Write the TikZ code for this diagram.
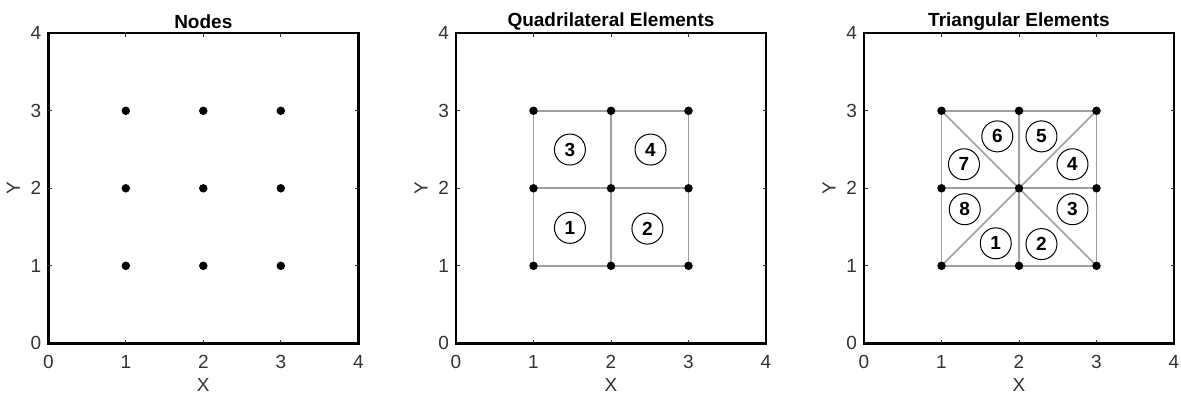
\documentclass[tikz,border=0pt]{standalone}
\usepackage{fontspec}
\setmainfont{Liberation Sans}
\tikzset{
 axbox/.style={draw=black, line width=2.4pt},
 axtick/.style={draw=black!80, line width=1pt},
 gridline/.style={draw=gray!75, line width=1.6pt},
 dot/.style={circle, fill=black, inner sep=0pt, minimum size=8.5pt},
 elem/.style={circle, draw=black, line width=1pt, minimum size=31pt, inner sep=0pt, font=\fontsize{19}{19}\selectfont\bfseries},
 ticklab/.style={font=\fontsize{19}{19}\selectfont, text=black!80, inner sep=0pt},
 axlab/.style={font=\fontsize{19}{19}\selectfont, text=black!80, inner sep=0pt},
 ptitle/.style={font=\fontsize{19}{19}\selectfont\bfseries, inner sep=0pt},
}
\begin{document}
\begin{tikzpicture}
\useasboundingbox[fill=white] (0,0) rectangle (1181pt,394pt);
\foreach \ox/\p/\t in {48.3/a/Nodes, 456/b/Quadrilateral Elements, 864/c/Triangular Elements}{
 \begin{scope}[shift={(\ox pt,50.7pt)}, x=77.5pt, y=77.5pt]
  \draw[axbox] (0,0) rectangle (4,4);
  \foreach \i in {1,2,3}{
   \draw[axtick] (\i,0) -- ++(0,3.5pt);
   \draw[axtick] (\i,4) -- ++(0,-3.5pt);
   \draw[axtick] (0,\i) -- ++(3.5pt,0);
   \draw[axtick] (4,\i) -- ++(-3.5pt,0);
  }
  \foreach \i in {0,1,2,3,4}{
   \node[ticklab] (\p-xt\i) at (\i,-0.245) {\i};
   \node[ticklab, anchor=east] (\p-yt\i) at (-0.09,\i) {\i};
  }
  \node[axlab] (\p-xl) at (2,-0.535) {X};
  \node[axlab, rotate=90] (\p-yl) at (-0.45,2) {Y};
  \node[ptitle] (\p-title) at (2,4.15) {\t};
  \foreach \i in {1,2,3}{\foreach \j in {1,2,3}{
   \coordinate (\p-\i-\j) at (\i,\j);
  }}
 \end{scope}
}
% mesh lines
\foreach \k in {1,2,3}{
 \draw[gridline] (b-1-\k) -- (b-3-\k);
 \draw[gridline] (b-\k-1) -- (b-\k-3);
 \draw[gridline] (c-1-\k) -- (c-3-\k);
 \draw[gridline] (c-\k-1) -- (c-\k-3);
}
\draw[gridline] (c-1-1) -- (c-3-3);
\draw[gridline] (c-1-3) -- (c-3-1);
% node dots
\foreach \p in {a,b,c}{
 \foreach \i in {1,2,3}{\foreach \j in {1,2,3}{
  \node[dot] (\p-d-\i-\j) at (\p-\i-\j) {};
 }}
}
% quad element labels
\begin{scope}[shift={(456pt,50.7pt)}, x=77.5pt, y=77.5pt]
 \node[elem] (qe1) at (1.47,1.49) {1};
 \node[elem] (qe2) at (2.47,1.48) {2};
 \node[elem] (qe3) at (1.47,2.5) {3};
 \node[elem] (qe4) at (2.51,2.5) {4};
\end{scope}
% triangle element labels
\begin{scope}[shift={(864pt,50.7pt)}, x=77.5pt, y=77.5pt]
 \node[elem] (te1) at (1.7,1.29) {1};
 \node[elem] (te2) at (2.29,1.28) {2};
 \node[elem] (te3) at (2.69,1.73) {3};
 \node[elem] (te4) at (2.69,2.31) {4};
 \node[elem] (te5) at (2.29,2.67) {5};
 \node[elem] (te6) at (1.72,2.67) {6};
 \node[elem] (te7) at (1.29,2.31) {7};
 \node[elem] (te8) at (1.3,1.73) {8};
\end{scope}
\end{tikzpicture}
\end{document}
